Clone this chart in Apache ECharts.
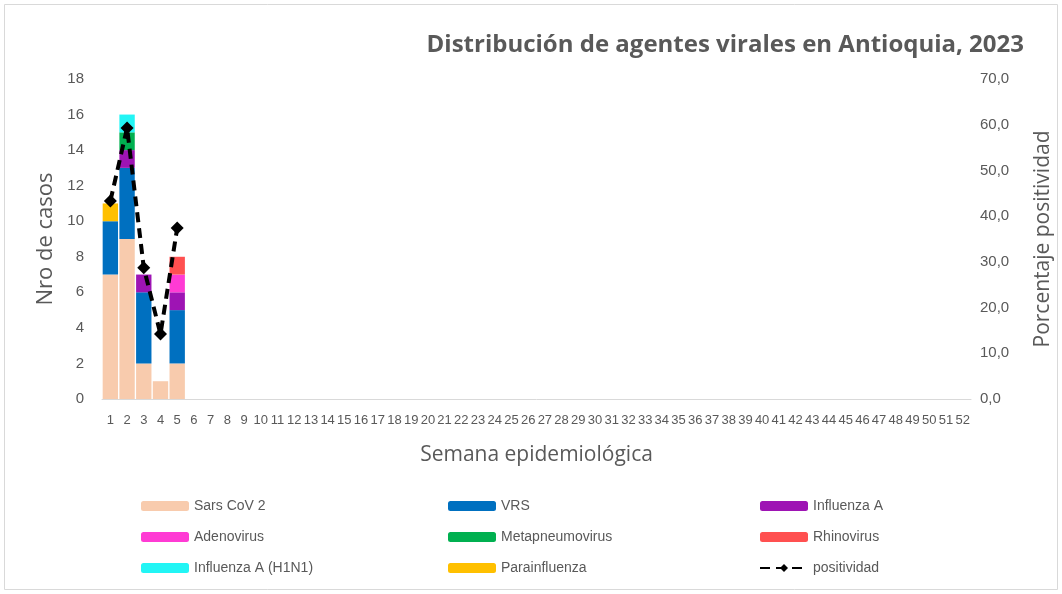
<!DOCTYPE html>
<html><head><meta charset="utf-8">
<script src="https://cdn.jsdelivr.net/npm/echarts@6/dist/echarts.min.js"></script>
<style>html,body{margin:0;padding:0;background:#fff}#c{width:1062px;height:594px}</style>
</head><body><div id="c"></div>
<script>
const weeks = Array.from({length:52},(_,i)=>String(i+1));
const sarsCov2   = [7,9,2,1,2];
const vrs        = [3,4,4,0,3];
const influenzaA = [0,1,1,0,1];
const adenovirus = [0,0,0,0,1];
const metapneumo = [0,1,0,0,0];
const rhinovirus = [0,0,0,0,1];
const h1n1       = [0,1,0,0,0];
const parainfl   = [1,0,0,0,0];
const positividad = [43.3,59.3,28.7,14.2,37.4];

const font = "'Liberation Sans',sans-serif";
const nameFont = "'Open Sans',sans-serif";
const gray = '#595959';
function pad(a){const r=weeks.map(()=>null);a.forEach((v,i)=>{r[i]=v===0?null:v;});return r;}
function padLine(a){const r=weeks.map(()=>null);a.forEach((v,i)=>{r[i]=v;});return r;}

const barDefs = [
 ['Sars CoV 2', sarsCov2, '#F8CBAD'],
 ['VRS', vrs, '#0070C0'],
 ['Influenza A', influenzaA, '#9E14B4'],
 ['Adenovirus', adenovirus, '#FF3BD4'],
 ['Metapneumovirus', metapneumo, '#00B050'],
 ['Rhinovirus', rhinovirus, '#FF5050'],
 ['Influenza A (H1N1)', h1n1, '#22F5F5'],
 ['Parainfluenza', parainfl, '#FFC000']
];
const series = barDefs.map(d=>({
  name:d[0], type:'bar', stack:'a', data:pad(d[1]), barCategoryGap:'8%',
  itemStyle:{color:d[2]}, yAxisIndex:0
}));
series.push({
  name:'positividad', type:'line', yAxisIndex:1, data:padLine(positividad),
  symbol:'diamond', symbolSize:13, connectNulls:false,
  lineStyle:{color:'#000', width:4, type:[10,6]}, itemStyle:{color:'#000'}
});

const legText = {color:gray, fontSize:14, fontFamily:font};
function leg(x, names){
  return {orient:'vertical', left:x, top:494, itemGap:17, itemWidth:48, itemHeight:10,
    textStyle:legText, data:names, selectedMode:false};
}

const chart = echarts.init(document.getElementById('c'));
chart.setOption({
  animation:false,
  graphic:[{type:'rect', shape:{x:4.5,y:4.5,width:1053,height:585}, style:{fill:'none', stroke:'#d9d9d9', lineWidth:1}}],
  title:{text:'Distribución de agentes virales en Antioquia, 2023', right:33, top:28,
    textStyle:{color:gray, fontSize:24, fontWeight:'bold', fontFamily:nameFont}},
  legend:[
    leg(136, ['Sars CoV 2','Adenovirus','Influenza A (H1N1)']),
    leg(443, ['VRS','Metapneumovirus','Parainfluenza']),
    leg(754, ['Influenza A','Rhinovirus','positividad'])
  ],
  grid:{left:102, right:90, top:79, bottom:195},
  xAxis:{type:'category', data:weeks,
    name:'Semana epidemiológica', nameLocation:'middle', nameGap:46,
    nameTextStyle:{color:gray, fontSize:21, fontFamily:nameFont},
    axisLine:{lineStyle:{color:'#d9d9d9'}}, axisTick:{show:false},
    axisLabel:{interval:0, color:gray, fontSize:13, fontFamily:font, margin:15}},
  yAxis:[
    {type:'value', min:0, max:18, interval:2,
     name:'Nro de casos', nameLocation:'middle', nameGap:42, nameRotate:90,
     nameTextStyle:{color:gray, fontSize:22, fontFamily:nameFont},
     axisLine:{show:false}, axisTick:{show:false}, splitLine:{show:false},
     axisLabel:{color:gray, fontSize:15, fontFamily:font, margin:18}},
    {type:'value', min:0, max:70, interval:10, position:'right',
     name:'Porcentaje positividad', nameLocation:'middle', nameGap:62, nameRotate:90,
     nameTextStyle:{color:gray, fontSize:21, fontFamily:nameFont},
     axisLine:{show:false}, axisTick:{show:false}, splitLine:{show:false},
     axisLabel:{color:gray, fontSize:15, fontFamily:font, margin:9,
       formatter:v=>v.toFixed(1).replace('.',',')}}
  ],
  series:series
});
</script></body></html>
